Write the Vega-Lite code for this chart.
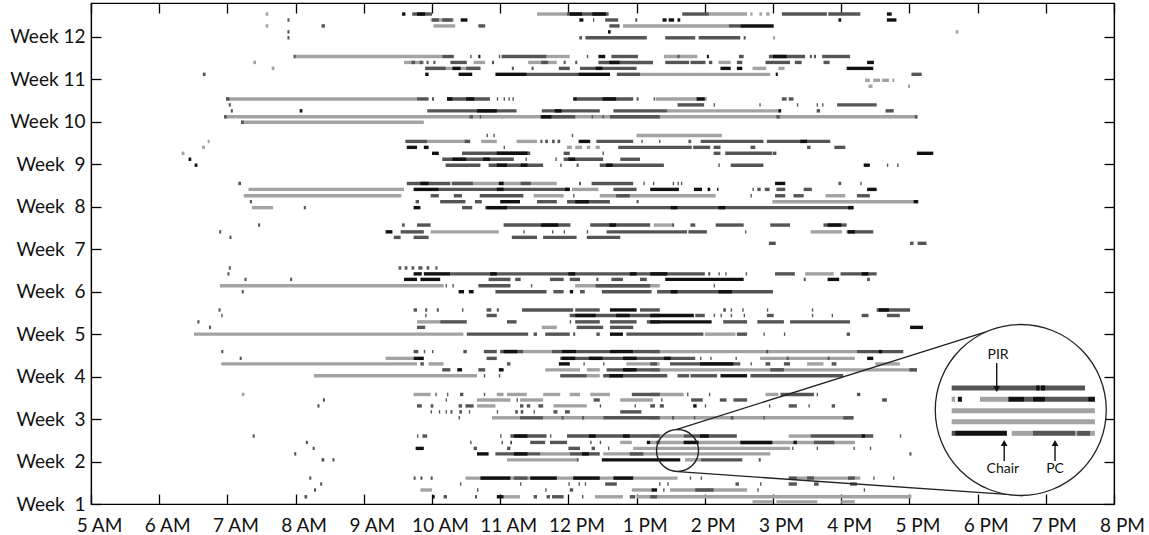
{
"$schema": "https://vega.github.io/schema/vega-lite/v6.json",
"width": 1023, "height": 501,
"autosize": {"type": "none"},
"padding": {"left": 91, "top": 3, "right": 35, "bottom": 31},
"background": "white",
"config": {
  "view": {"stroke": "#000", "strokeWidth": 1.2},
  "axis": {"grid": false, "domainColor": "#000", "domainWidth": 1.2, "tickColor": "#000", "tickWidth": 1.3, "tickSize": -10, "labelFont": "Lato", "labelFontSize": 19, "labelColor": "#111", "title": null}
},
"datasets": {
"seg": [
{"y":12.54,"s":7.56,"e":7.6,"c":"L"},{"y":12.54,"s":11.54,"e":11.98,"c":"L"},{"y":12.54,"s":14.06,"e":14.62,"c":"L"},{"y":12.54,"s":14.67,"e":14.7,"c":"L"},{"y":12.54,"s":14.8,"e":14.84,"c":"L"},{"y":12.54,"s":14.9,"e":14.95,"c":"L"},
{"y":12.54,"s":9.71,"e":10.0,"c":"D"},{"y":12.54,"s":11.98,"e":12.59,"c":"D"},{"y":12.54,"s":13.67,"e":14.06,"c":"D"},{"y":12.54,"s":15.13,"e":15.79,"c":"D"},{"y":12.54,"s":15.81,"e":16.28,"c":"D"},
{"y":12.54,"s":9.56,"e":9.61,"c":"B"},{"y":12.54,"s":9.78,"e":9.9,"c":"B"},{"y":12.54,"s":12.02,"e":12.2,"c":"B"},{"y":12.54,"s":12.35,"e":12.55,"c":"B"},{"y":12.54,"s":16.67,"e":16.74,"c":"B"},
{"y":12.4,"s":9.98,"e":10.32,"c":"L"},{"y":12.4,"s":7.88,"e":7.91,"c":"D"},{"y":12.4,"s":10.0,"e":10.1,"c":"D"},{"y":12.4,"s":10.15,"e":10.3,"c":"D"},{"y":12.4,"s":12.36,"e":12.38,"c":"D"},{"y":12.4,"s":12.54,"e":12.73,"c":"D"},{"y":12.4,"s":12.98,"e":13.01,"c":"D"},
{"y":12.4,"s":10.42,"e":10.52,"c":"B"},{"y":12.4,"s":12.16,"e":12.22,"c":"B"},{"y":12.4,"s":13.38,"e":13.44,"c":"B"},{"y":12.4,"s":13.47,"e":13.55,"c":"B"},{"y":12.4,"s":13.6,"e":13.64,"c":"B"},{"y":12.4,"s":15.96,"e":16.0,"c":"B"},{"y":12.4,"s":16.67,"e":16.81,"c":"B"},
{"y":12.26,"s":7.56,"e":7.6,"c":"L"},{"y":12.26,"s":10.02,"e":10.34,"c":"L"},{"y":12.26,"s":12.8,"e":14.35,"c":"L"},{"y":12.26,"s":8.38,"e":8.43,"c":"D"},{"y":12.26,"s":10.68,"e":10.78,"c":"D"},{"y":12.26,"s":12.6,"e":12.75,"c":"D"},{"y":12.26,"s":14.35,"e":14.52,"c":"D"},{"y":12.26,"s":14.52,"e":15.01,"c":"B"},
{"y":12.12,"s":7.88,"e":7.91,"c":"D"},{"y":12.12,"s":12.58,"e":12.62,"c":"B"},{"y":12.12,"s":17.68,"e":17.72,"c":"L"},
{"y":11.98,"s":7.88,"e":7.91,"c":"D"},{"y":11.98,"s":12.16,"e":12.2,"c":"D"},{"y":11.98,"s":12.25,"e":13.15,"c":"D"},{"y":11.98,"s":13.42,"e":13.86,"c":"D"},{"y":11.98,"s":13.91,"e":14.52,"c":"D"},{"y":11.98,"s":14.57,"e":14.6,"c":"D"},{"y":11.98,"s":15.0,"e":15.03,"c":"L"},
{"y":11.54,"s":7.98,"e":10.15,"c":"L"},{"y":11.54,"s":11.68,"e":12.02,"c":"L"},{"y":11.54,"s":13.4,"e":13.89,"c":"L"},
{"y":11.54,"s":7.97,"e":8.0,"c":"D"},{"y":11.54,"s":10.15,"e":10.32,"c":"D"},{"y":11.54,"s":10.56,"e":10.58,"c":"D"},{"y":11.54,"s":10.98,"e":11.0,"c":"D"},{"y":11.54,"s":11.02,"e":11.68,"c":"D"},{"y":11.54,"s":12.27,"e":12.29,"c":"D"},{"y":11.54,"s":12.63,"e":13.02,"c":"D"},{"y":11.54,"s":13.6,"e":13.63,"c":"D"},{"y":11.54,"s":14.5,"e":14.57,"c":"D"},{"y":11.54,"s":14.94,"e":15.47,"c":"D"},{"y":11.54,"s":15.54,"e":15.57,"c":"D"},{"y":11.54,"s":15.6,"e":15.63,"c":"D"},{"y":11.54,"s":15.72,"e":16.13,"c":"D"},
{"y":11.54,"s":10.68,"e":10.71,"c":"B"},{"y":11.54,"s":12.44,"e":12.54,"c":"B"},{"y":11.54,"s":14.03,"e":14.06,"c":"B"},{"y":11.54,"s":15.0,"e":15.2,"c":"B"},
{"y":11.4,"s":7.38,"e":7.42,"c":"L"},{"y":11.4,"s":9.59,"e":9.88,"c":"L"},{"y":11.4,"s":10.61,"e":10.78,"c":"L"},{"y":11.4,"s":11.41,"e":11.83,"c":"L"},{"y":11.4,"s":14.2,"e":14.38,"c":"L"},
{"y":11.4,"s":9.7,"e":9.75,"c":"D"},{"y":11.4,"s":9.82,"e":9.86,"c":"D"},{"y":11.4,"s":9.92,"e":9.95,"c":"D"},{"y":11.4,"s":10.02,"e":10.05,"c":"D"},{"y":11.4,"s":10.27,"e":10.51,"c":"D"},{"y":11.4,"s":10.88,"e":10.91,"c":"D"},{"y":11.4,"s":11.6,"e":11.7,"c":"D"},{"y":11.4,"s":11.93,"e":11.96,"c":"D"},{"y":11.4,"s":12.1,"e":12.13,"c":"D"},{"y":11.4,"s":12.44,"e":13.24,"c":"D"},{"y":11.4,"s":13.42,"e":13.77,"c":"D"},{"y":11.4,"s":13.79,"e":14.01,"c":"D"},{"y":11.4,"s":14.06,"e":14.11,"c":"D"},{"y":11.4,"s":14.47,"e":14.55,"c":"D"},{"y":11.4,"s":14.89,"e":15.25,"c":"D"},{"y":11.4,"s":15.32,"e":15.42,"c":"D"},{"y":11.4,"s":15.74,"e":15.83,"c":"D"},
{"y":11.4,"s":12.6,"e":12.75,"c":"B"},{"y":11.4,"s":16.38,"e":16.48,"c":"B"},
{"y":11.26,"s":7.65,"e":7.69,"c":"L"},{"y":11.26,"s":9.9,"e":10.71,"c":"L"},{"y":11.26,"s":14.7,"e":14.9,"c":"L"},{"y":11.26,"s":15.08,"e":15.17,"c":"L"},
{"y":11.26,"s":9.9,"e":10.2,"c":"D"},{"y":11.26,"s":10.5,"e":10.71,"c":"D"},{"y":11.26,"s":11.17,"e":11.2,"c":"D"},{"y":11.26,"s":11.46,"e":11.49,"c":"D"},{"y":11.26,"s":11.86,"e":12.02,"c":"D"},{"y":11.26,"s":12.17,"e":13.0,"c":"D"},
{"y":11.26,"s":10.3,"e":10.42,"c":"B"},{"y":11.26,"s":12.4,"e":12.5,"c":"B"},{"y":11.26,"s":14.23,"e":14.38,"c":"B"},{"y":11.26,"s":14.47,"e":14.55,"c":"B"},{"y":11.26,"s":16.08,"e":16.47,"c":"B"},
{"y":11.12,"s":13.05,"e":14.96,"c":"L"},{"y":11.12,"s":6.64,"e":6.68,"c":"D"},{"y":11.12,"s":11.39,"e":12.61,"c":"D"},{"y":11.12,"s":12.71,"e":13.05,"c":"D"},{"y":11.12,"s":17.03,"e":17.18,"c":"D"},
{"y":11.12,"s":9.9,"e":9.95,"c":"B"},{"y":11.12,"s":10.39,"e":10.59,"c":"B"},{"y":11.12,"s":10.93,"e":11.39,"c":"B"},{"y":11.12,"s":12.15,"e":12.61,"c":"B"},{"y":11.12,"s":15.04,"e":15.07,"c":"B"},
{"y":10.98,"s":16.35,"e":16.42,"c":"L"},{"y":10.98,"s":16.47,"e":16.57,"c":"L"},{"y":10.98,"s":16.6,"e":16.7,"c":"L"},{"y":10.98,"s":16.75,"e":16.78,"c":"L"},{"y":10.84,"s":16.4,"e":16.46,"c":"L"},{"y":10.84,"s":16.98,"e":17.01,"c":"L"},
{"y":10.54,"s":6.98,"e":9.78,"c":"L"},{"y":10.54,"s":13.28,"e":14.03,"c":"L"},
{"y":10.54,"s":6.98,"e":7.03,"c":"D"},{"y":10.54,"s":9.78,"e":9.95,"c":"D"},{"y":10.54,"s":10.0,"e":10.03,"c":"D"},{"y":10.54,"s":10.22,"e":10.85,"c":"D"},{"y":10.54,"s":10.95,"e":10.97,"c":"D"},{"y":10.54,"s":11.05,"e":11.07,"c":"D"},{"y":10.54,"s":11.12,"e":11.14,"c":"D"},{"y":10.54,"s":11.18,"e":11.2,"c":"D"},{"y":10.54,"s":12.1,"e":12.95,"c":"D"},{"y":10.54,"s":13.0,"e":13.03,"c":"D"},{"y":10.54,"s":13.25,"e":13.27,"c":"D"},{"y":10.54,"s":15.13,"e":15.2,"c":"D"},{"y":10.54,"s":15.23,"e":15.3,"c":"D"},
{"y":10.54,"s":10.22,"e":10.3,"c":"B"},{"y":10.54,"s":10.5,"e":10.62,"c":"B"},{"y":10.54,"s":12.07,"e":12.12,"c":"B"},{"y":10.54,"s":12.5,"e":12.7,"c":"B"},{"y":10.54,"s":13.88,"e":14.0,"c":"B"},
{"y":10.4,"s":7.02,"e":7.05,"c":"D"},{"y":10.4,"s":13.6,"e":13.99,"c":"D"},{"y":10.4,"s":14.13,"e":14.15,"c":"D"},{"y":10.4,"s":14.8,"e":14.82,"c":"D"},{"y":10.4,"s":15.35,"e":15.37,"c":"D"},{"y":10.4,"s":15.64,"e":15.66,"c":"D"},{"y":10.4,"s":15.72,"e":15.74,"c":"D"},{"y":10.4,"s":15.94,"e":16.52,"c":"D"},
{"y":10.26,"s":13.45,"e":15.1,"c":"L"},{"y":10.26,"s":7.05,"e":7.08,"c":"D"},{"y":10.26,"s":9.93,"e":11.24,"c":"D"},{"y":10.26,"s":11.61,"e":12.46,"c":"D"},{"y":10.26,"s":12.66,"e":13.45,"c":"D"},{"y":10.26,"s":15.64,"e":15.69,"c":"D"},{"y":10.26,"s":16.65,"e":16.77,"c":"D"},
{"y":10.26,"s":8.06,"e":8.1,"c":"B"},{"y":10.26,"s":10.66,"e":10.95,"c":"B"},{"y":10.26,"s":11.8,"e":11.9,"c":"B"},{"y":10.26,"s":15.08,"e":15.12,"c":"B"},
{"y":10.12,"s":6.96,"e":17.11,"c":"L"},{"y":10.12,"s":6.95,"e":6.99,"c":"D"},{"y":10.12,"s":10.55,"e":10.6,"c":"D"},{"y":10.12,"s":10.7,"e":10.72,"c":"D"},{"y":10.12,"s":11.59,"e":12.1,"c":"D"},{"y":10.12,"s":12.34,"e":12.36,"c":"D"},{"y":10.12,"s":12.5,"e":12.52,"c":"D"},{"y":10.12,"s":12.61,"e":13.34,"c":"D"},{"y":10.12,"s":15.05,"e":15.1,"c":"D"},{"y":10.12,"s":17.08,"e":17.12,"c":"D"},{"y":10.12,"s":11.6,"e":11.75,"c":"B"},
{"y":9.99,"s":7.2,"e":9.88,"c":"L"},{"y":9.99,"s":7.2,"e":7.24,"c":"D"},
{"y":9.68,"s":13.0,"e":14.25,"c":"L"},{"y":9.68,"s":10.8,"e":10.82,"c":"D"},{"y":9.68,"s":10.9,"e":10.92,"c":"D"},{"y":9.68,"s":12.05,"e":12.07,"c":"D"},
{"y":9.54,"s":6.71,"e":6.74,"c":"L"},{"y":9.54,"s":9.93,"e":10.53,"c":"L"},{"y":9.54,"s":10.72,"e":10.95,"c":"L"},{"y":9.54,"s":11.24,"e":11.54,"c":"L"},
{"y":9.54,"s":9.61,"e":9.93,"c":"D"},{"y":9.54,"s":10.48,"e":10.56,"c":"D"},{"y":9.54,"s":11.59,"e":11.62,"c":"D"},{"y":9.54,"s":11.66,"e":11.7,"c":"D"},{"y":9.54,"s":11.76,"e":11.8,"c":"D"},{"y":9.54,"s":11.84,"e":11.88,"c":"D"},{"y":9.54,"s":12.41,"e":12.95,"c":"D"},{"y":9.54,"s":13.07,"e":13.09,"c":"D"},{"y":9.54,"s":13.33,"e":13.35,"c":"D"},{"y":9.54,"s":13.76,"e":13.8,"c":"D"},{"y":9.54,"s":13.94,"e":14.86,"c":"D"},{"y":9.54,"s":14.91,"e":15.84,"c":"D"},
{"y":9.54,"s":12.15,"e":12.32,"c":"B"},{"y":9.54,"s":15.4,"e":15.5,"c":"B"},
{"y":9.4,"s":6.63,"e":6.67,"c":"L"},{"y":9.4,"s":11.98,"e":12.05,"c":"L"},{"y":9.4,"s":12.1,"e":12.2,"c":"L"},{"y":9.4,"s":12.27,"e":12.32,"c":"L"},{"y":9.4,"s":12.4,"e":12.46,"c":"L"},
{"y":9.4,"s":11.05,"e":11.07,"c":"D"},{"y":9.4,"s":12.73,"e":13.81,"c":"D"},{"y":9.4,"s":13.83,"e":14.08,"c":"D"},{"y":9.4,"s":14.13,"e":14.23,"c":"D"},{"y":9.4,"s":14.67,"e":14.74,"c":"D"},{"y":9.4,"s":15.5,"e":15.55,"c":"D"},{"y":9.4,"s":15.9,"e":16.06,"c":"D"},
{"y":9.4,"s":9.63,"e":9.78,"c":"B"},{"y":9.4,"s":9.88,"e":9.95,"c":"B"},
{"y":9.26,"s":6.33,"e":6.37,"c":"L"},{"y":9.26,"s":10.44,"e":11.44,"c":"D"},{"y":9.26,"s":11.93,"e":12.02,"c":"D"},{"y":9.26,"s":12.5,"e":12.52,"c":"D"},{"y":9.26,"s":14.13,"e":14.23,"c":"D"},{"y":9.26,"s":14.3,"e":14.99,"c":"D"},{"y":9.26,"s":15.0,"e":15.05,"c":"D"},
{"y":9.26,"s":10.0,"e":10.1,"c":"B"},{"y":9.26,"s":10.95,"e":11.4,"c":"B"},{"y":9.26,"s":17.11,"e":17.35,"c":"B"},
{"y":9.12,"s":10.15,"e":11.2,"c":"D"},{"y":9.12,"s":11.37,"e":11.39,"c":"D"},{"y":9.12,"s":11.81,"e":11.83,"c":"D"},{"y":9.12,"s":11.93,"e":12.51,"c":"D"},{"y":9.12,"s":12.76,"e":13.05,"c":"D"},
{"y":9.12,"s":6.43,"e":6.47,"c":"B"},{"y":9.12,"s":10.3,"e":10.5,"c":"B"},{"y":9.12,"s":10.75,"e":10.85,"c":"B"},{"y":9.12,"s":12.0,"e":12.1,"c":"B"},
{"y":8.98,"s":10.2,"e":10.71,"c":"D"},{"y":8.98,"s":10.83,"e":11.63,"c":"D"},{"y":8.98,"s":11.88,"e":11.9,"c":"D"},{"y":8.98,"s":12.12,"e":12.15,"c":"D"},{"y":8.98,"s":12.46,"e":13.4,"c":"D"},{"y":8.98,"s":14.2,"e":14.22,"c":"D"},{"y":8.98,"s":14.38,"e":14.86,"c":"D"},{"y":8.98,"s":16.67,"e":16.69,"c":"D"},{"y":8.98,"s":16.82,"e":16.84,"c":"D"},
{"y":8.98,"s":6.52,"e":6.56,"c":"B"},{"y":8.98,"s":10.95,"e":11.1,"c":"B"},{"y":8.98,"s":11.3,"e":11.4,"c":"B"},{"y":8.98,"s":12.55,"e":12.65,"c":"B"},{"y":8.98,"s":16.33,"e":16.42,"c":"B"},
{"y":8.55,"s":10.29,"e":11.83,"c":"L"},{"y":8.55,"s":7.16,"e":7.2,"c":"D"},{"y":8.55,"s":9.63,"e":10.27,"c":"D"},{"y":8.55,"s":10.29,"e":10.6,"c":"D"},{"y":8.55,"s":11.3,"e":11.45,"c":"D"},{"y":8.55,"s":12.34,"e":12.95,"c":"D"},{"y":8.55,"s":13.1,"e":13.12,"c":"D"},{"y":8.55,"s":13.24,"e":13.26,"c":"D"},{"y":8.55,"s":13.53,"e":13.55,"c":"D"},{"y":8.55,"s":13.6,"e":13.62,"c":"D"},{"y":8.55,"s":13.65,"e":13.67,"c":"D"},{"y":8.55,"s":15.96,"e":16.0,"c":"D"},{"y":8.55,"s":16.28,"e":16.3,"c":"D"},
{"y":8.55,"s":9.83,"e":9.95,"c":"B"},{"y":8.55,"s":10.98,"e":11.05,"c":"B"},{"y":8.55,"s":12.16,"e":12.18,"c":"B"},{"y":8.55,"s":15.03,"e":15.18,"c":"B"},
{"y":8.41,"s":7.31,"e":9.59,"c":"L"},{"y":8.41,"s":12.05,"e":12.44,"c":"L"},{"y":8.41,"s":10.1,"e":12.02,"c":"D"},{"y":8.41,"s":12.66,"e":13.0,"c":"D"},{"y":8.41,"s":14.7,"e":14.72,"c":"D"},{"y":8.41,"s":14.77,"e":14.82,"c":"D"},{"y":8.41,"s":14.88,"e":14.95,"c":"D"},{"y":8.41,"s":15.05,"e":15.18,"c":"D"},{"y":8.41,"s":15.45,"e":15.57,"c":"D"},
{"y":8.41,"s":9.73,"e":10.1,"c":"B"},{"y":8.41,"s":10.95,"e":11.05,"c":"B"},{"y":8.41,"s":11.95,"e":12.02,"c":"B"},{"y":8.41,"s":13.2,"e":13.62,"c":"B"},{"y":8.41,"s":13.84,"e":13.96,"c":"B"},{"y":8.41,"s":14.04,"e":14.08,"c":"B"},{"y":8.41,"s":14.18,"e":14.2,"c":"B"},{"y":8.41,"s":16.38,"e":16.52,"c":"B"},
{"y":8.26,"s":7.24,"e":9.55,"c":"L"},{"y":8.26,"s":11.49,"e":11.93,"c":"L"},{"y":8.26,"s":12.46,"e":14.16,"c":"L"},{"y":8.26,"s":15.77,"e":16.06,"c":"L"},
{"y":8.26,"s":9.98,"e":10.1,"c":"D"},{"y":8.26,"s":10.32,"e":10.44,"c":"D"},{"y":8.26,"s":10.7,"e":11.34,"c":"D"},{"y":8.26,"s":12.07,"e":12.09,"c":"D"},{"y":8.26,"s":12.7,"e":12.9,"c":"D"},{"y":8.26,"s":14.67,"e":14.69,"c":"D"},{"y":8.26,"s":15.03,"e":15.18,"c":"D"},{"y":8.26,"s":15.3,"e":15.45,"c":"D"},{"y":8.26,"s":16.23,"e":16.42,"c":"D"},
{"y":8.12,"s":14.99,"e":17.06,"c":"L"},{"y":8.12,"s":7.33,"e":7.36,"c":"D"},{"y":8.12,"s":9.76,"e":9.81,"c":"D"},{"y":8.12,"s":10.12,"e":10.49,"c":"D"},{"y":8.12,"s":10.63,"e":10.73,"c":"D"},{"y":8.12,"s":11.54,"e":11.83,"c":"D"},{"y":8.12,"s":11.98,"e":12.61,"c":"D"},{"y":8.12,"s":13.0,"e":13.03,"c":"D"},
{"y":8.12,"s":11.0,"e":11.29,"c":"B"},{"y":8.12,"s":12.1,"e":12.3,"c":"B"},{"y":8.12,"s":17.06,"e":17.13,"c":"B"},
{"y":7.98,"s":7.36,"e":7.67,"c":"L"},{"y":7.98,"s":8.12,"e":8.15,"c":"D"},{"y":7.98,"s":10.44,"e":10.59,"c":"D"},{"y":7.98,"s":10.78,"e":16.18,"c":"D"},
{"y":7.98,"s":9.73,"e":9.83,"c":"B"},{"y":7.98,"s":10.8,"e":11.1,"c":"B"},{"y":7.98,"s":13.5,"e":13.6,"c":"B"},{"y":7.98,"s":14.2,"e":14.3,"c":"B"},{"y":7.98,"s":16.1,"e":16.18,"c":"B"},
{"y":7.57,"s":13.25,"e":13.52,"c":"L"},{"y":7.57,"s":7.45,"e":7.48,"c":"D"},{"y":7.57,"s":9.56,"e":9.6,"c":"D"},{"y":7.57,"s":9.78,"e":9.98,"c":"D"},{"y":7.57,"s":11.05,"e":12.03,"c":"D"},{"y":7.57,"s":12.32,"e":13.2,"c":"D"},{"y":7.57,"s":13.52,"e":13.55,"c":"D"},{"y":7.57,"s":13.79,"e":13.86,"c":"D"},{"y":7.57,"s":14.16,"e":14.57,"c":"D"},{"y":7.57,"s":14.96,"e":15.25,"c":"D"},{"y":7.57,"s":15.74,"e":16.08,"c":"D"},
{"y":7.57,"s":11.6,"e":11.85,"c":"B"},{"y":7.57,"s":12.6,"e":12.7,"c":"B"},{"y":7.57,"s":15.8,"e":16.0,"c":"B"},
{"y":7.41,"s":9.98,"e":10.98,"c":"L"},{"y":7.41,"s":15.55,"e":16.01,"c":"L"},{"y":7.41,"s":6.88,"e":6.91,"c":"D"},{"y":7.41,"s":9.54,"e":9.88,"c":"D"},{"y":7.41,"s":11.34,"e":11.36,"c":"D"},{"y":7.41,"s":11.76,"e":11.78,"c":"D"},{"y":7.41,"s":11.93,"e":11.95,"c":"D"},{"y":7.41,"s":12.27,"e":12.29,"c":"D"},{"y":7.41,"s":12.56,"e":13.74,"c":"D"},{"y":7.41,"s":13.76,"e":14.03,"c":"D"},{"y":7.41,"s":14.59,"e":14.61,"c":"D"},{"y":7.41,"s":16.08,"e":16.47,"c":"D"},
{"y":7.41,"s":9.32,"e":9.42,"c":"B"},{"y":7.41,"s":16.1,"e":16.2,"c":"B"},
{"y":7.28,"s":7.03,"e":7.06,"c":"D"},{"y":7.28,"s":9.44,"e":9.54,"c":"D"},{"y":7.28,"s":9.73,"e":9.95,"c":"D"},{"y":7.28,"s":11.17,"e":11.54,"c":"D"},{"y":7.28,"s":11.63,"e":12.12,"c":"D"},{"y":7.28,"s":12.27,"e":12.76,"c":"D"},
{"y":7.14,"s":14.94,"e":15.04,"c":"D"},{"y":7.14,"s":17.01,"e":17.06,"c":"D"},{"y":7.14,"s":17.12,"e":17.25,"c":"D"},
{"y":6.56,"s":7.02,"e":7.05,"c":"D"},{"y":6.56,"s":9.51,"e":9.55,"c":"D"},{"y":6.56,"s":9.6,"e":9.64,"c":"D"},{"y":6.56,"s":9.7,"e":9.74,"c":"D"},{"y":6.56,"s":9.8,"e":9.86,"c":"D"},{"y":6.56,"s":9.92,"e":9.96,"c":"D"},{"y":6.56,"s":10.05,"e":10.08,"c":"D"},
{"y":6.42,"s":15.47,"e":15.89,"c":"L"},{"y":6.42,"s":7.0,"e":7.03,"c":"D"},{"y":6.42,"s":10.27,"e":14.0,"c":"D"},{"y":6.42,"s":14.05,"e":14.08,"c":"D"},{"y":6.42,"s":14.2,"e":14.22,"c":"D"},{"y":6.42,"s":14.3,"e":14.32,"c":"D"},{"y":6.42,"s":14.6,"e":14.62,"c":"D"},{"y":6.42,"s":15.03,"e":15.32,"c":"D"},{"y":6.42,"s":15.99,"e":16.52,"c":"D"},
{"y":6.42,"s":9.73,"e":9.85,"c":"B"},{"y":6.42,"s":9.88,"e":10.27,"c":"B"},{"y":6.42,"s":10.85,"e":10.95,"c":"B"},{"y":6.42,"s":12.0,"e":12.1,"c":"B"},{"y":6.42,"s":12.9,"e":13.0,"c":"B"},{"y":6.42,"s":13.2,"e":13.45,"c":"B"},{"y":6.42,"s":16.3,"e":16.4,"c":"B"},
{"y":6.29,"s":7.25,"e":7.28,"c":"D"},{"y":6.29,"s":7.92,"e":7.95,"c":"D"},{"y":6.29,"s":10.83,"e":11.15,"c":"D"},{"y":6.29,"s":11.22,"e":11.3,"c":"D"},{"y":6.29,"s":11.73,"e":11.93,"c":"D"},{"y":6.29,"s":12.02,"e":12.17,"c":"D"},{"y":6.29,"s":12.41,"e":12.44,"c":"D"},{"y":6.29,"s":12.63,"e":12.8,"c":"D"},{"y":6.29,"s":13.05,"e":13.15,"c":"D"},{"y":6.29,"s":15.45,"e":15.48,"c":"D"},{"y":6.29,"s":16.38,"e":16.42,"c":"D"},
{"y":6.29,"s":9.59,"e":9.78,"c":"B"},{"y":6.29,"s":9.83,"e":10.12,"c":"B"},{"y":6.29,"s":13.42,"e":14.57,"c":"B"},{"y":6.29,"s":15.8,"e":15.97,"c":"B"},
{"y":6.14,"s":6.89,"e":10.17,"c":"L"},{"y":6.14,"s":12.1,"e":13.34,"c":"L"},{"y":6.14,"s":10.2,"e":10.22,"c":"D"},{"y":6.14,"s":10.3,"e":10.32,"c":"D"},{"y":6.14,"s":10.68,"e":11.15,"c":"D"},{"y":6.14,"s":11.45,"e":11.47,"c":"D"},{"y":6.14,"s":12.4,"e":13.2,"c":"D"},{"y":6.14,"s":14.13,"e":14.15,"c":"D"},
{"y":6.0,"s":7.21,"e":7.24,"c":"D"},{"y":6.0,"s":10.93,"e":11.68,"c":"D"},{"y":6.0,"s":11.78,"e":11.93,"c":"D"},{"y":6.0,"s":12.17,"e":12.24,"c":"D"},{"y":6.0,"s":12.49,"e":13.22,"c":"D"},{"y":6.0,"s":13.3,"e":15.0,"c":"D"},
{"y":6.0,"s":10.39,"e":10.47,"c":"B"},{"y":6.0,"s":10.54,"e":10.61,"c":"B"},{"y":6.0,"s":12.02,"e":12.07,"c":"B"},{"y":6.0,"s":13.5,"e":13.6,"c":"B"},{"y":6.0,"s":14.2,"e":14.4,"c":"B"},
{"y":5.57,"s":6.87,"e":6.9,"c":"D"},{"y":5.57,"s":9.73,"e":9.78,"c":"D"},{"y":5.57,"s":9.9,"e":9.93,"c":"D"},{"y":5.57,"s":10.07,"e":10.1,"c":"D"},{"y":5.57,"s":10.44,"e":10.46,"c":"D"},{"y":5.57,"s":10.8,"e":10.87,"c":"D"},{"y":5.57,"s":10.95,"e":10.98,"c":"D"},{"y":5.57,"s":11.32,"e":12.07,"c":"D"},{"y":5.57,"s":12.1,"e":12.46,"c":"D"},{"y":5.57,"s":13.05,"e":13.34,"c":"D"},{"y":5.57,"s":14.27,"e":14.31,"c":"D"},{"y":5.57,"s":14.38,"e":14.4,"c":"D"},{"y":5.57,"s":14.55,"e":14.57,"c":"D"},{"y":5.57,"s":14.91,"e":14.93,"c":"D"},{"y":5.57,"s":15.57,"e":15.59,"c":"D"},{"y":5.57,"s":16.52,"e":17.01,"c":"D"},
{"y":5.57,"s":12.61,"e":13.0,"c":"B"},{"y":5.57,"s":16.55,"e":16.7,"c":"B"},
{"y":5.44,"s":6.91,"e":6.93,"c":"D"},{"y":5.44,"s":9.9,"e":9.92,"c":"D"},{"y":5.44,"s":10.8,"e":10.95,"c":"D"},{"y":5.44,"s":12.02,"e":13.34,"c":"D"},{"y":5.44,"s":13.86,"e":14.0,"c":"D"},{"y":5.44,"s":14.13,"e":14.15,"c":"D"},{"y":5.44,"s":14.23,"e":14.25,"c":"D"},{"y":5.44,"s":14.38,"e":14.4,"c":"D"},{"y":5.44,"s":14.57,"e":14.59,"c":"D"},{"y":5.44,"s":14.91,"e":15.01,"c":"D"},{"y":5.44,"s":15.57,"e":15.59,"c":"D"},{"y":5.44,"s":15.86,"e":15.88,"c":"D"},{"y":5.44,"s":16.3,"e":16.4,"c":"D"},{"y":5.44,"s":16.67,"e":16.86,"c":"D"},
{"y":5.44,"s":12.1,"e":12.4,"c":"B"},{"y":5.44,"s":12.7,"e":12.9,"c":"B"},{"y":5.44,"s":13.2,"e":13.84,"c":"B"},
{"y":5.29,"s":9.78,"e":10.12,"c":"L"},{"y":5.29,"s":6.56,"e":6.59,"c":"D"},{"y":5.29,"s":10.12,"e":10.51,"c":"D"},{"y":5.29,"s":11.1,"e":11.24,"c":"D"},{"y":5.29,"s":12.02,"e":12.04,"c":"D"},{"y":5.29,"s":12.1,"e":12.46,"c":"D"},{"y":5.29,"s":12.61,"e":13.0,"c":"D"},{"y":5.29,"s":13.15,"e":13.34,"c":"D"},{"y":5.29,"s":14.27,"e":14.62,"c":"D"},{"y":5.29,"s":14.77,"e":15.16,"c":"D"},{"y":5.29,"s":15.25,"e":16.13,"c":"D"},{"y":5.29,"s":13.2,"e":14.1,"c":"B"},
{"y":5.16,"s":11.61,"e":11.83,"c":"L"},{"y":5.16,"s":6.73,"e":6.76,"c":"D"},{"y":5.16,"s":9.78,"e":9.9,"c":"D"},{"y":5.16,"s":12.12,"e":12.51,"c":"D"},{"y":5.16,"s":12.61,"e":12.95,"c":"D"},{"y":5.16,"s":17.01,"e":17.2,"c":"B"},
{"y":5.0,"s":6.51,"e":10.46,"c":"L"},{"y":5.0,"s":14.0,"e":14.45,"c":"L"},{"y":5.0,"s":10.51,"e":11.41,"c":"D"},{"y":5.0,"s":11.49,"e":11.54,"c":"D"},{"y":5.0,"s":11.66,"e":12.02,"c":"D"},{"y":5.0,"s":12.07,"e":12.1,"c":"D"},{"y":5.0,"s":12.41,"e":12.46,"c":"D"},{"y":5.0,"s":12.85,"e":13.98,"c":"D"},{"y":5.0,"s":14.47,"e":14.62,"c":"D"},{"y":5.0,"s":14.86,"e":14.88,"c":"D"},{"y":5.0,"s":15.16,"e":15.18,"c":"D"},{"y":5.0,"s":16.08,"e":16.13,"c":"D"},{"y":5.0,"s":12.61,"e":12.8,"c":"B"},
{"y":4.59,"s":11.34,"e":11.76,"c":"L"},{"y":4.59,"s":13.2,"e":16.23,"c":"L"},{"y":4.59,"s":6.91,"e":6.94,"c":"D"},{"y":4.59,"s":9.73,"e":9.8,"c":"D"},{"y":4.59,"s":9.88,"e":9.9,"c":"D"},{"y":4.59,"s":10.0,"e":10.02,"c":"D"},{"y":4.59,"s":10.46,"e":10.51,"c":"D"},{"y":4.59,"s":10.76,"e":10.95,"c":"D"},{"y":4.59,"s":11.0,"e":11.34,"c":"D"},{"y":4.59,"s":11.76,"e":11.9,"c":"D"},{"y":4.59,"s":12.12,"e":12.61,"c":"D"},{"y":4.59,"s":12.95,"e":13.34,"c":"D"},{"y":4.59,"s":14.9,"e":14.93,"c":"D"},{"y":4.59,"s":16.23,"e":16.91,"c":"D"},
{"y":4.59,"s":11.05,"e":11.25,"c":"B"},{"y":4.59,"s":11.9,"e":12.12,"c":"B"},{"y":4.59,"s":12.61,"e":12.95,"c":"B"},{"y":4.59,"s":16.55,"e":16.6,"c":"B"},
{"y":4.43,"s":9.32,"e":9.73,"c":"L"},{"y":4.43,"s":14.81,"e":16.2,"c":"L"},{"y":4.43,"s":7.18,"e":7.21,"c":"D"},{"y":4.43,"s":10.8,"e":10.95,"c":"D"},{"y":4.43,"s":11.88,"e":13.86,"c":"D"},{"y":4.43,"s":13.93,"e":13.95,"c":"D"},{"y":4.43,"s":14.08,"e":14.1,"c":"D"},{"y":4.43,"s":14.45,"e":14.47,"c":"D"},{"y":4.43,"s":15.2,"e":15.23,"c":"D"},{"y":4.43,"s":15.8,"e":15.83,"c":"D"},
{"y":4.43,"s":9.73,"e":9.88,"c":"B"},{"y":4.43,"s":11.9,"e":12.1,"c":"B"},{"y":4.43,"s":12.3,"e":12.5,"c":"B"},{"y":4.43,"s":12.8,"e":13.0,"c":"B"},{"y":4.43,"s":13.4,"e":13.5,"c":"B"},{"y":4.43,"s":16.38,"e":16.47,"c":"B"},
{"y":4.3,"s":6.91,"e":9.78,"c":"L"},{"y":4.3,"s":9.95,"e":10.17,"c":"L"},{"y":4.3,"s":12.85,"e":13.34,"c":"L"},{"y":4.3,"s":15.5,"e":15.74,"c":"L"},{"y":4.3,"s":16.5,"e":16.86,"c":"L"},
{"y":4.3,"s":9.83,"e":9.88,"c":"D"},{"y":4.3,"s":11.1,"e":11.15,"c":"D"},{"y":4.3,"s":12.22,"e":12.24,"c":"D"},{"y":4.3,"s":12.51,"e":12.53,"c":"D"},{"y":4.3,"s":13.2,"e":13.3,"c":"D"},{"y":4.3,"s":13.49,"e":14.52,"c":"D"},{"y":4.3,"s":14.67,"e":14.69,"c":"D"},{"y":4.3,"s":14.89,"e":14.96,"c":"D"},{"y":4.3,"s":15.16,"e":15.25,"c":"D"},{"y":4.3,"s":15.86,"e":15.93,"c":"D"},
{"y":4.3,"s":11.86,"e":12.02,"c":"B"},{"y":4.3,"s":13.93,"e":14.42,"c":"B"},
{"y":4.16,"s":11.66,"e":12.17,"c":"L"},{"y":4.16,"s":12.27,"e":12.46,"c":"L"},{"y":4.16,"s":13.2,"e":17.11,"c":"L"},{"y":4.16,"s":10.15,"e":10.27,"c":"D"},{"y":4.16,"s":10.68,"e":10.78,"c":"D"},{"y":4.16,"s":12.56,"e":13.34,"c":"D"},{"y":4.16,"s":14.96,"e":15.16,"c":"D"},{"y":4.16,"s":17.0,"e":17.11,"c":"D"},
{"y":4.16,"s":10.37,"e":10.44,"c":"B"},{"y":4.16,"s":10.98,"e":11.05,"c":"B"},{"y":4.16,"s":12.8,"e":13.0,"c":"B"},
{"y":4.02,"s":8.27,"e":10.66,"c":"L"},{"y":4.02,"s":12.27,"e":12.46,"c":"L"},{"y":4.02,"s":10.76,"e":10.78,"c":"D"},{"y":4.02,"s":10.98,"e":11.0,"c":"D"},{"y":4.02,"s":11.88,"e":12.27,"c":"D"},{"y":4.02,"s":12.51,"e":13.45,"c":"D"},{"y":4.02,"s":13.6,"e":13.77,"c":"D"},{"y":4.02,"s":13.79,"e":14.18,"c":"D"},{"y":4.02,"s":14.67,"e":16.03,"c":"D"},
{"y":4.02,"s":12.6,"e":12.8,"c":"B"},{"y":4.02,"s":14.23,"e":14.62,"c":"B"},
{"y":3.58,"s":7.21,"e":7.25,"c":"L"},{"y":3.58,"s":9.73,"e":9.98,"c":"L"},{"y":3.58,"s":10.95,"e":11.05,"c":"L"},{"y":3.58,"s":11.1,"e":11.39,"c":"L"},{"y":3.58,"s":11.63,"e":11.88,"c":"L"},{"y":3.58,"s":12.02,"e":12.17,"c":"L"},{"y":3.58,"s":12.32,"e":12.61,"c":"L"},{"y":3.58,"s":13.2,"e":13.69,"c":"L"},{"y":3.58,"s":14.89,"e":15.08,"c":"L"},
{"y":3.58,"s":10.05,"e":10.07,"c":"D"},{"y":3.58,"s":10.22,"e":10.24,"c":"D"},{"y":3.58,"s":10.41,"e":10.46,"c":"D"},{"y":3.58,"s":10.76,"e":10.78,"c":"D"},{"y":3.58,"s":12.93,"e":13.34,"c":"D"},{"y":3.58,"s":13.74,"e":13.76,"c":"D"},{"y":3.58,"s":14.06,"e":14.08,"c":"D"},{"y":3.58,"s":15.11,"e":15.6,"c":"D"},{"y":3.58,"s":15.64,"e":15.66,"c":"D"},{"y":3.58,"s":16.23,"e":16.28,"c":"D"},
{"y":3.45,"s":10.66,"e":11.15,"c":"L"},{"y":3.45,"s":11.29,"e":11.63,"c":"L"},{"y":3.45,"s":12.76,"e":13.24,"c":"L"},{"y":3.45,"s":8.4,"e":8.43,"c":"D"},{"y":3.45,"s":10.2,"e":10.22,"c":"D"},{"y":3.45,"s":11.24,"e":11.26,"c":"D"},{"y":3.45,"s":12.37,"e":12.46,"c":"D"},{"y":3.45,"s":13.36,"e":13.38,"c":"D"},{"y":3.45,"s":13.8,"e":13.97,"c":"D"},{"y":3.45,"s":14.22,"e":14.32,"c":"D"},{"y":3.45,"s":14.42,"e":14.62,"c":"D"},{"y":3.45,"s":16.6,"e":16.67,"c":"D"},
{"y":3.31,"s":10.66,"e":10.93,"c":"L"},{"y":3.31,"s":11.78,"e":12.27,"c":"L"},{"y":3.31,"s":8.32,"e":8.35,"c":"D"},{"y":3.31,"s":9.78,"e":9.85,"c":"D"},{"y":3.31,"s":9.98,"e":10.02,"c":"D"},{"y":3.31,"s":10.39,"e":10.44,"c":"D"},{"y":3.31,"s":10.49,"e":10.61,"c":"D"},{"y":3.31,"s":11.29,"e":11.34,"c":"D"},{"y":3.31,"s":11.39,"e":11.44,"c":"D"},{"y":3.31,"s":11.56,"e":11.63,"c":"D"},{"y":3.31,"s":12.46,"e":12.48,"c":"D"},{"y":3.31,"s":12.97,"e":12.99,"c":"D"},{"y":3.31,"s":13.2,"e":13.27,"c":"D"},{"y":3.31,"s":13.34,"e":13.4,"c":"D"},{"y":3.31,"s":14.0,"e":14.02,"c":"D"},{"y":3.31,"s":14.94,"e":14.96,"c":"D"},{"y":3.31,"s":15.23,"e":15.35,"c":"D"},{"y":3.31,"s":15.52,"e":15.54,"c":"D"},{"y":3.31,"s":15.86,"e":15.91,"c":"D"},{"y":3.31,"s":13.83,"e":13.88,"c":"B"},
{"y":3.17,"s":9.98,"e":10.0,"c":"D"},{"y":3.17,"s":10.1,"e":10.12,"c":"D"},{"y":3.17,"s":10.2,"e":10.22,"c":"D"},{"y":3.17,"s":10.27,"e":10.3,"c":"D"},{"y":3.17,"s":10.4,"e":10.44,"c":"D"},{"y":3.17,"s":10.54,"e":10.56,"c":"D"},{"y":3.17,"s":10.95,"e":10.97,"c":"D"},{"y":3.17,"s":11.22,"e":11.26,"c":"D"},{"y":3.17,"s":11.3,"e":11.34,"c":"D"},{"y":3.17,"s":11.49,"e":11.51,"c":"D"},{"y":3.17,"s":11.78,"e":11.84,"c":"D"},{"y":3.17,"s":11.95,"e":12.02,"c":"D"},{"y":3.17,"s":12.76,"e":13.07,"c":"D"},
{"y":3.03,"s":10.88,"e":11.29,"c":"L"},{"y":3.03,"s":11.63,"e":12.51,"c":"L"},{"y":3.03,"s":13.2,"e":16.18,"c":"L"},{"y":3.03,"s":10.39,"e":10.41,"c":"D"},{"y":3.03,"s":11.29,"e":11.63,"c":"D"},{"y":3.03,"s":11.9,"e":11.93,"c":"D"},{"y":3.03,"s":12.2,"e":12.23,"c":"D"},{"y":3.03,"s":12.51,"e":13.34,"c":"D"},{"y":3.03,"s":13.52,"e":13.55,"c":"D"},{"y":3.03,"s":13.84,"e":13.86,"c":"D"},{"y":3.03,"s":14.38,"e":14.42,"c":"D"},{"y":3.03,"s":14.86,"e":14.88,"c":"D"},{"y":3.03,"s":16.03,"e":16.18,"c":"D"},
{"y":2.6,"s":13.2,"e":13.69,"c":"L"},{"y":2.6,"s":15.23,"e":15.55,"c":"L"},{"y":2.6,"s":7.37,"e":7.4,"c":"D"},{"y":2.6,"s":9.78,"e":9.8,"c":"D"},{"y":2.6,"s":9.86,"e":9.93,"c":"D"},{"y":2.6,"s":11.0,"e":11.02,"c":"D"},{"y":2.6,"s":11.15,"e":11.68,"c":"D"},{"y":2.6,"s":11.73,"e":11.75,"c":"D"},{"y":2.6,"s":11.98,"e":13.34,"c":"D"},{"y":2.6,"s":13.69,"e":14.47,"c":"D"},{"y":2.6,"s":15.55,"e":16.47,"c":"D"},{"y":2.6,"s":16.86,"e":16.88,"c":"D"},
{"y":2.6,"s":11.2,"e":11.4,"c":"B"},{"y":2.6,"s":12.3,"e":12.4,"c":"B"},{"y":2.6,"s":12.8,"e":12.9,"c":"B"},{"y":2.6,"s":13.93,"e":14.06,"c":"B"},{"y":2.6,"s":16.3,"e":16.35,"c":"B"},
{"y":2.45,"s":12.76,"e":12.93,"c":"L"},{"y":2.45,"s":13.2,"e":16.2,"c":"L"},{"y":2.45,"s":8.15,"e":8.18,"c":"D"},{"y":2.45,"s":10.56,"e":10.58,"c":"D"},{"y":2.45,"s":11.02,"e":11.04,"c":"D"},{"y":2.45,"s":11.44,"e":11.66,"c":"D"},{"y":2.45,"s":11.73,"e":11.98,"c":"D"},{"y":2.45,"s":12.32,"e":12.34,"c":"D"},{"y":2.45,"s":12.46,"e":12.48,"c":"D"},{"y":2.45,"s":13.29,"e":13.34,"c":"D"},{"y":2.45,"s":15.6,"e":15.9,"c":"D"},
{"y":2.45,"s":11.15,"e":11.17,"c":"B"},{"y":2.45,"s":13.15,"e":13.2,"c":"B"},{"y":2.45,"s":13.69,"e":13.91,"c":"B"},{"y":2.45,"s":14.52,"e":14.99,"c":"B"},{"y":2.45,"s":15.3,"e":15.35,"c":"B"},
{"y":2.31,"s":12.95,"e":15.25,"c":"L"},{"y":2.31,"s":8.25,"e":8.28,"c":"D"},{"y":2.31,"s":10.61,"e":10.66,"c":"D"},{"y":2.31,"s":11.1,"e":11.15,"c":"D"},{"y":2.31,"s":12.0,"e":12.17,"c":"D"},{"y":2.31,"s":12.34,"e":12.39,"c":"D"},{"y":2.31,"s":12.58,"e":12.6,"c":"D"},{"y":2.31,"s":15.28,"e":15.3,"c":"D"},{"y":2.31,"s":15.64,"e":15.66,"c":"D"},{"y":2.31,"s":16.18,"e":16.2,"c":"D"},{"y":2.31,"s":16.42,"e":16.44,"c":"D"},{"y":2.31,"s":9.76,"e":9.88,"c":"B"},
{"y":2.18,"s":11.59,"e":12.02,"c":"L"},{"y":2.18,"s":12.51,"e":14.96,"c":"L"},{"y":2.18,"s":7.98,"e":8.01,"c":"D"},{"y":2.18,"s":10.93,"e":11.59,"c":"D"},{"y":2.18,"s":12.02,"e":12.46,"c":"D"},{"y":2.18,"s":12.9,"e":13.1,"c":"D"},{"y":2.18,"s":17.0,"e":17.03,"c":"D"},
{"y":2.18,"s":10.66,"e":10.83,"c":"B"},{"y":2.18,"s":11.2,"e":11.4,"c":"B"},{"y":2.18,"s":12.2,"e":12.3,"c":"B"},
{"y":2.04,"s":11.1,"e":12.12,"c":"L"},{"y":2.04,"s":13.71,"e":13.94,"c":"L"},{"y":2.04,"s":8.38,"e":8.42,"c":"D"},{"y":2.04,"s":8.54,"e":8.57,"c":"D"},{"y":2.04,"s":12.12,"e":12.15,"c":"D"},{"y":2.04,"s":13.94,"e":14.55,"c":"D"},{"y":2.04,"s":14.79,"e":14.82,"c":"D"},{"y":2.04,"s":12.49,"e":13.64,"c":"B"},
{"y":1.61,"s":10.49,"e":13.6,"c":"L"},{"y":1.61,"s":15.35,"e":16.28,"c":"L"},{"y":1.61,"s":8.2,"e":8.23,"c":"D"},{"y":1.61,"s":9.73,"e":9.76,"c":"D"},{"y":1.61,"s":9.83,"e":9.86,"c":"D"},{"y":1.61,"s":9.98,"e":10.01,"c":"D"},{"y":1.61,"s":11.2,"e":11.4,"c":"D"},{"y":1.61,"s":13.78,"e":13.8,"c":"D"},{"y":1.61,"s":13.94,"e":13.96,"c":"D"},{"y":1.61,"s":15.23,"e":15.35,"c":"D"},{"y":1.61,"s":15.5,"e":15.6,"c":"D"},{"y":1.61,"s":16.1,"e":16.2,"c":"D"},{"y":1.61,"s":16.47,"e":16.49,"c":"D"},{"y":1.61,"s":16.76,"e":16.78,"c":"D"},
{"y":1.61,"s":10.71,"e":11.15,"c":"B"},{"y":1.61,"s":11.44,"e":11.83,"c":"B"},{"y":1.61,"s":12.07,"e":12.46,"c":"B"},{"y":1.61,"s":12.66,"e":12.95,"c":"B"},
{"y":1.47,"s":8.36,"e":8.39,"c":"D"},{"y":1.47,"s":10.41,"e":10.43,"c":"D"},{"y":1.47,"s":11.29,"e":11.31,"c":"D"},{"y":1.47,"s":12.0,"e":12.02,"c":"D"},{"y":1.47,"s":12.15,"e":12.17,"c":"D"},{"y":1.47,"s":12.24,"e":12.26,"c":"D"},{"y":1.47,"s":12.54,"e":12.71,"c":"D"},{"y":1.47,"s":13.33,"e":13.35,"c":"D"},{"y":1.47,"s":13.45,"e":13.47,"c":"D"},{"y":1.47,"s":14.45,"e":14.5,"c":"D"},{"y":1.47,"s":14.81,"e":14.83,"c":"D"},{"y":1.47,"s":15.23,"e":15.35,"c":"D"},{"y":1.47,"s":15.6,"e":15.67,"c":"D"},{"y":1.47,"s":16.13,"e":16.23,"c":"D"},
{"y":1.33,"s":9.83,"e":10.0,"c":"L"},{"y":1.33,"s":12.93,"e":13.24,"c":"L"},{"y":1.33,"s":13.49,"e":14.62,"c":"L"},{"y":1.33,"s":8.27,"e":8.3,"c":"D"},{"y":1.33,"s":10.66,"e":10.68,"c":"D"},{"y":1.33,"s":11.66,"e":11.68,"c":"D"},{"y":1.33,"s":12.02,"e":12.07,"c":"D"},{"y":1.33,"s":13.39,"e":13.41,"c":"D"},{"y":1.33,"s":13.86,"e":14.13,"c":"D"},{"y":1.33,"s":14.77,"e":14.79,"c":"D"},{"y":1.33,"s":16.33,"e":16.35,"c":"D"},{"y":1.33,"s":13.22,"e":13.3,"c":"B"},
{"y":1.17,"s":11.05,"e":11.29,"c":"L"},{"y":1.17,"s":12.39,"e":12.8,"c":"L"},{"y":1.17,"s":13.0,"e":17.03,"c":"L"},{"y":1.17,"s":8.13,"e":8.17,"c":"D"},{"y":1.17,"s":10.17,"e":10.22,"c":"D"},{"y":1.17,"s":10.63,"e":10.66,"c":"D"},{"y":1.17,"s":11.49,"e":11.54,"c":"D"},{"y":1.17,"s":11.68,"e":11.73,"c":"D"},{"y":1.17,"s":11.76,"e":11.93,"c":"D"},{"y":1.17,"s":12.2,"e":12.22,"c":"D"},{"y":1.17,"s":12.9,"e":12.98,"c":"D"},{"y":1.17,"s":13.2,"e":13.3,"c":"D"},
{"y":1.17,"s":10.0,"e":10.04,"c":"B"},{"y":1.17,"s":10.95,"e":11.05,"c":"B"},
{"y":1.05,"s":14.7,"e":15.0,"c":"L"},{"y":1.05,"s":15.05,"e":15.65,"c":"L"},{"y":1.05,"s":16.0,"e":16.2,"c":"L"}
],
"inset": [
{"y":3.733,"s":17.62,"e":19.575,"c":"D"},{"y":3.733,"s":18.86,"e":18.91,"c":"B"},{"y":3.733,"s":18.93,"e":18.99,"c":"B"},
{"y":3.467,"s":17.62,"e":17.67,"c":"L"},{"y":3.467,"s":18.035,"e":18.45,"c":"L"},{"y":3.467,"s":18.68,"e":18.81,"c":"D"},{"y":3.467,"s":18.99,"e":19.62,"c":"D"},{"y":3.467,"s":17.71,"e":17.77,"c":"B"},{"y":3.467,"s":18.45,"e":18.68,"c":"B"},{"y":3.467,"s":18.81,"e":18.99,"c":"B"},{"y":3.467,"s":19.62,"e":19.72,"c":"B"},
{"y":3.198,"s":17.62,"e":19.72,"c":"L"},
{"y":2.939,"s":17.62,"e":19.72,"c":"L"},
{"y":2.665,"s":18.5,"e":18.81,"c":"L"},{"y":2.665,"s":19.43,"e":19.46,"c":"L"},{"y":2.665,"s":19.65,"e":19.72,"c":"L"},{"y":2.665,"s":17.62,"e":17.67,"c":"D"},{"y":2.665,"s":18.81,"e":19.43,"c":"D"},{"y":2.665,"s":19.46,"e":19.65,"c":"D"},{"y":2.665,"s":17.67,"e":18.43,"c":"B"}
],
"links": [{"x":13.592,"y":2.76,"x2":18.284,"y2":5.134},{"x":13.606,"y":1.761,"x2":18.666,"y2":1.2}],
"bigc": [{"x":18.633,"y":3.214}],
"smallc": [{"x":13.6,"y":2.26}],
"labels": [{"x":18.3,"y":4.51,"t":"PIR"},{"x":18.37,"y":1.813,"t":"Chair"},{"x":19.135,"y":1.813,"t":"PC"}],
"shafts": [{"x":18.28,"y":4.32,"y2":3.78},{"x":18.39,"y":2.013,"y2":2.37},{"x":19.135,"y":2.013,"y2":2.37}],
"headsDown": [{"x":18.28,"y":3.709}],
"headsUp": [{"x":18.39,"y":2.437},{"x":19.135,"y":2.437}]
},
"layer": [
{"data": {"name": "seg"}, "mark": {"type": "rule", "strokeWidth": 3.4, "strokeCap": "butt"},
 "encoding": {
  "x": {"field": "s", "type": "quantitative", "scale": {"domain": [5, 20], "nice": false, "zero": false},
        "axis": {"orient": "bottom", "values": [5,6,7,8,9,10,11,12,13,14,15,16,17,18,19,20], "labelExpr": "datum.value < 12 ? datum.value + ' AM' : (datum.value == 12 ? '12 PM' : (datum.value - 12) + ' PM')", "labelPadding": 22, "labelOffset": 8, "labelFlush": false, "labelOverlap": false}},
  "x2": {"field": "e"},
  "y": {"field": "y", "type": "quantitative", "scale": {"domain": [1, 12.8], "nice": false, "zero": false},
        "axis": {"orient": "left", "values": [1,2,3,4,5,6,7,8,9,10,11,12], "labelExpr": "'Week' + (datum.value < 10 ? '\u00a0 ' : ' ') + datum.value", "labelPadding": 16, "labelFlush": false, "labelOverlap": false}},
  "color": {"field": "c", "type": "nominal", "scale": {"domain": ["L","D","B"], "range": ["#a3a3a3","#555555","#111111"]}, "legend": null}
 }},
{"data": {"name": "seg"}, "mark": {"type": "rule", "opacity": 0},
 "encoding": {
  "x": {"field": "s", "type": "quantitative", "axis": {"orient": "top", "values": [5,6,7,8,9,10,11,12,13,14,15,16,17,18,19,20], "labels": false}},
  "y": {"field": "y", "type": "quantitative", "axis": {"orient": "right", "values": [1,2,3,4,5,6,7,8,9,10,11,12], "labels": false}}
 }},
{"data": {"name": "links"}, "mark": {"type": "rule", "color": "#222", "strokeWidth": 1.3},
 "encoding": {"x": {"field": "x", "type": "quantitative", "axis": null}, "y": {"field": "y", "type": "quantitative", "axis": null}, "x2": {"field": "x2"}, "y2": {"field": "y2"}}},
{"data": {"name": "bigc"}, "mark": {"type": "point", "shape": "circle", "size": 29241, "filled": true, "fill": "white", "fillOpacity": 1, "stroke": "#222", "strokeWidth": 1.3, "opacity": 1},
 "encoding": {"x": {"field": "x", "type": "quantitative", "axis": null}, "y": {"field": "y", "type": "quantitative", "axis": null}}},
{"data": {"name": "smallc"}, "mark": {"type": "point", "shape": "circle", "size": 1764, "filled": false, "color": "#222", "strokeWidth": 1.4, "opacity": 1},
 "encoding": {"x": {"field": "x", "type": "quantitative", "axis": null}, "y": {"field": "y", "type": "quantitative", "axis": null}}},
{"data": {"name": "inset"}, "mark": {"type": "rule", "strokeWidth": 5, "strokeCap": "butt"},
 "encoding": {"x": {"field": "s", "type": "quantitative", "axis": null}, "x2": {"field": "e"}, "y": {"field": "y", "type": "quantitative", "axis": null},
  "color": {"field": "c", "type": "nominal", "legend": null}}},
{"data": {"name": "shafts"}, "mark": {"type": "rule", "color": "#111", "strokeWidth": 1.4},
 "encoding": {"x": {"field": "x", "type": "quantitative", "axis": null}, "y": {"field": "y", "type": "quantitative", "axis": null}, "y2": {"field": "y2"}}},
{"data": {"name": "headsDown"}, "mark": {"type": "point", "shape": "triangle-down", "size": 45, "filled": true, "color": "#111", "opacity": 1},
 "encoding": {"x": {"field": "x", "type": "quantitative", "axis": null}, "y": {"field": "y", "type": "quantitative", "axis": null}}},
{"data": {"name": "headsUp"}, "mark": {"type": "point", "shape": "triangle-up", "size": 45, "filled": true, "color": "#111", "opacity": 1},
 "encoding": {"x": {"field": "x", "type": "quantitative", "axis": null}, "y": {"field": "y", "type": "quantitative", "axis": null}}},
{"data": {"name": "labels"}, "mark": {"type": "text", "font": "Lato", "fontSize": 14, "color": "#111", "align": "center", "baseline": "middle"},
 "encoding": {"x": {"field": "x", "type": "quantitative", "axis": null}, "y": {"field": "y", "type": "quantitative", "axis": null}, "text": {"field": "t"}}}
],
"resolve": {"axis": {"x": "independent", "y": "independent"}}
}
